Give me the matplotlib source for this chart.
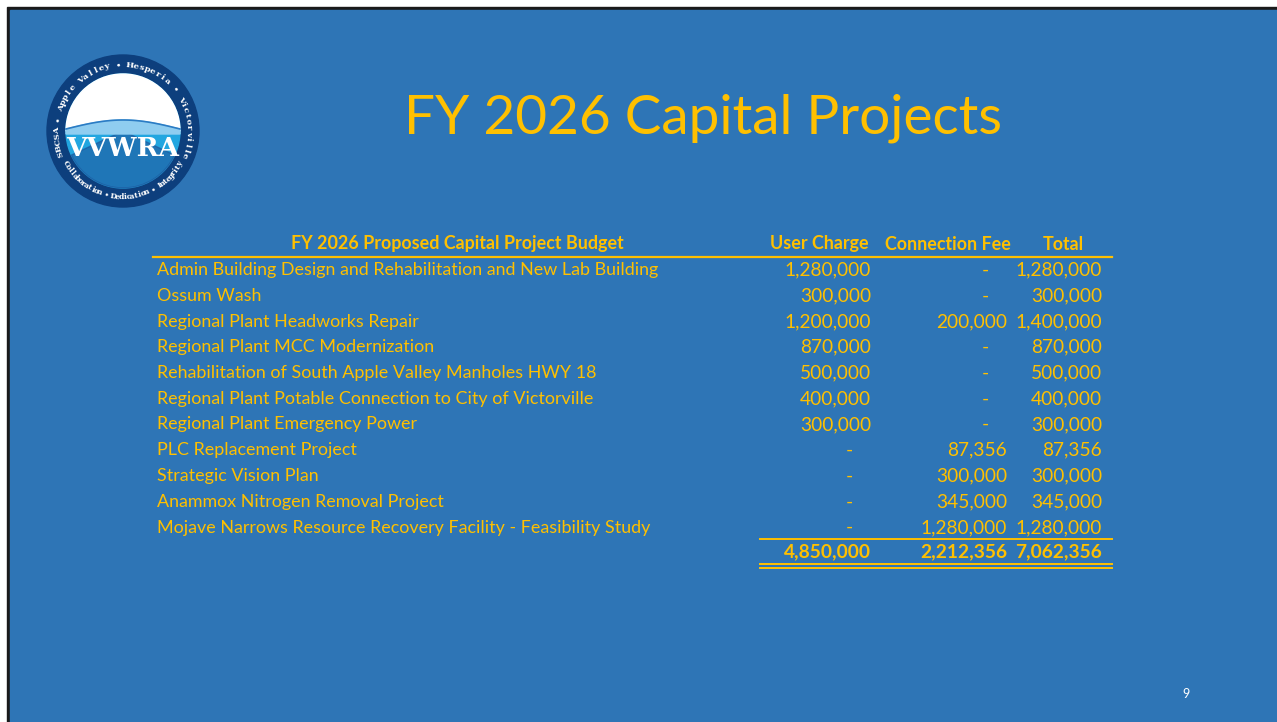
import numpy as np
import matplotlib.pyplot as plt
from matplotlib.patches import Circle, Rectangle, Wedge, Polygon

BLUE = "#2e75b6"
GOLD = "#ffc000"
WHITE = "#ffffff"
FONT = "Lato"

projects = [
    "Admin Building Design and Rehabilitation and New Lab Building",
    "Ossum Wash",
    "Regional Plant Headworks Repair",
    "Regional Plant MCC Modernization",
    "Rehabilitation of South Apple Valley Manholes HWY 18",
    "Regional Plant Potable Connection to City of Victorville",
    "Regional Plant Emergency Power",
    "PLC Replacement Project",
    "Strategic Vision Plan",
    "Anammox Nitrogen Removal Project",
    "Mojave Narrows Resource Recovery Facility - Feasibility Study",
]
user_charge = [1280000, 300000, 1200000, 870000, 500000, 400000, 300000, 0, 0, 0, 0]
connection_fee = [0, 0, 200000, 0, 0, 0, 0, 87356, 300000, 345000, 1280000]
headers = ["FY 2026 Proposed Capital Project Budget", "User Charge", "Connection Fee", "Total"]


def fmt(v):
    return f"{v:,.0f}" if v else "-"


fig = plt.figure(figsize=(12.77, 7.22), dpi=100)
ax = fig.add_axes([0, 0, 1, 1])
ax.set_xlim(0, 1277)
ax.set_ylim(722, 0)
ax.axis("off")

# slide background with thin dark frame on top/left
ax.add_patch(Rectangle((0, 0), 1277, 722, color="white", zorder=0))
ax.add_patch(Rectangle((7, 7), 1270, 715, color="#1a1a1a", zorder=1))
ax.add_patch(Rectangle((10, 10), 1267, 712, color=BLUE, zorder=2))

# logo (y axis is inverted: wedges 180-360 sit on the upper half)
cx, cy = 123, 131
ax.add_patch(Circle((cx, cy), 76, color="#0d3f7d", zorder=3))
ax.add_patch(Circle((cx, cy), 57, color="#22a6e0", zorder=4))
ax.add_patch(Wedge((cx, cy), 57, 180, 360, color=WHITE, zorder=5))
ax.add_patch(Wedge((cx, cy), 57, 25, 155, color="#1d4f96", alpha=0.55, zorder=5))
wave_x = np.linspace(cx - 57, cx + 57, 60)
wave_y = cy - 2 - 9 * np.sin((wave_x - cx + 57) / 114 * np.pi)
ax.add_patch(Polygon(np.column_stack([np.r_[wave_x, wave_x[::-1]],
                                      np.r_[wave_y, np.full(60, cy + 3)]]),
                     color="#8fcdf0", zorder=6))
ax.plot(wave_x, wave_y, color="#2b7cc4", lw=1.2, zorder=6)
ax.text(cx, cy + 17, "VVWRA", color=WHITE, fontsize=19, fontweight="bold",
        family="DejaVu Serif", ha="center", va="center", zorder=7)


def arc_text(text, start, end, r, bottom=False, size=6):
    angles = np.linspace(start, end, len(text))
    for ch, a in zip(text, angles):
        x = cx + r * np.cos(np.radians(a))
        y = cy - r * np.sin(np.radians(a))
        rot = a - 90 if not bottom else a + 90
        ax.text(x, y, ch, color=WHITE, fontsize=size, fontweight="bold",
                family="DejaVu Serif", ha="center", va="center",
                rotation=rot, zorder=8)


arc_text("SBCSA • Apple Valley • Hesperia • Victorville", 200, -22, 66)
arc_text("Collaboration • Dedication • Integrity", 210, 330, 66, bottom=True, size=5.5)

# title
ax.text(703, 118, "FY 2026 Capital Projects", color=GOLD, fontsize=39.5,
        fontweight="normal", family=FONT, ha="center", va="center", zorder=9)

# table
fs = 12.9
fn = 13.8
x_name, x_user, x_conn, x_tot = 157, 871, 1007, 1102
y_head = 244
ax.text(457, y_head, headers[0], color=GOLD, fontsize=fs, fontweight="bold",
        family=FONT, ha="center", va="center", zorder=9)
ax.text(869, y_head, headers[1], color=GOLD, fontsize=fs, fontweight="bold",
        family=FONT, ha="right", va="center", zorder=9)
ax.text(948, y_head, headers[2], color=GOLD, fontsize=fs, fontweight="bold",
        family=FONT, ha="center", va="center", zorder=9)
ax.text(1063, y_head, headers[3], color=GOLD, fontsize=fs, fontweight="bold",
        family=FONT, ha="center", va="center", zorder=9)
ax.plot([153, 1112], [256.5, 256.5], color=GOLD, lw=1.6, zorder=9)

row_h = 25.75
for i, (name, u, c) in enumerate(zip(projects, user_charge, connection_fee)):
    y = 270 + i * row_h
    ax.text(x_name, y, name, color=GOLD, fontsize=fs, family=FONT,
            ha="left", va="center", zorder=9)
    for val, xr, xd in ((u, x_user, 849), (c, x_conn, 985), (u + c, x_tot, 1080)):
        if val:
            ax.text(xr, y, fmt(val), color=GOLD, fontsize=fn, family=FONT,
                    ha="right", va="center", zorder=9)
        else:
            ax.text(xd, y, "-", color=GOLD, fontsize=fn, family=FONT,
                    ha="center", va="center", zorder=9)

tot_u, tot_c = sum(user_charge), sum(connection_fee)
y_tot = 552
ax.plot([760, 1112], [538.5, 538.5], color=GOLD, lw=1.4, zorder=9)
for val, xr in ((tot_u, x_user), (tot_c, x_conn), (tot_u + tot_c, x_tot)):
    ax.text(xr, y_tot, fmt(val), color=GOLD, fontsize=fn, fontweight="bold",
            family=FONT, ha="right", va="center", zorder=9)
ax.plot([760, 1112], [564, 564], color=GOLD, lw=1.4, zorder=9)
ax.plot([760, 1112], [567.5, 567.5], color=GOLD, lw=1.4, zorder=9)

ax.text(1186, 694, "9", color=WHITE, fontsize=9, family=FONT,
        ha="center", va="center", zorder=9)

fig.savefig("out.png", dpi=100)
